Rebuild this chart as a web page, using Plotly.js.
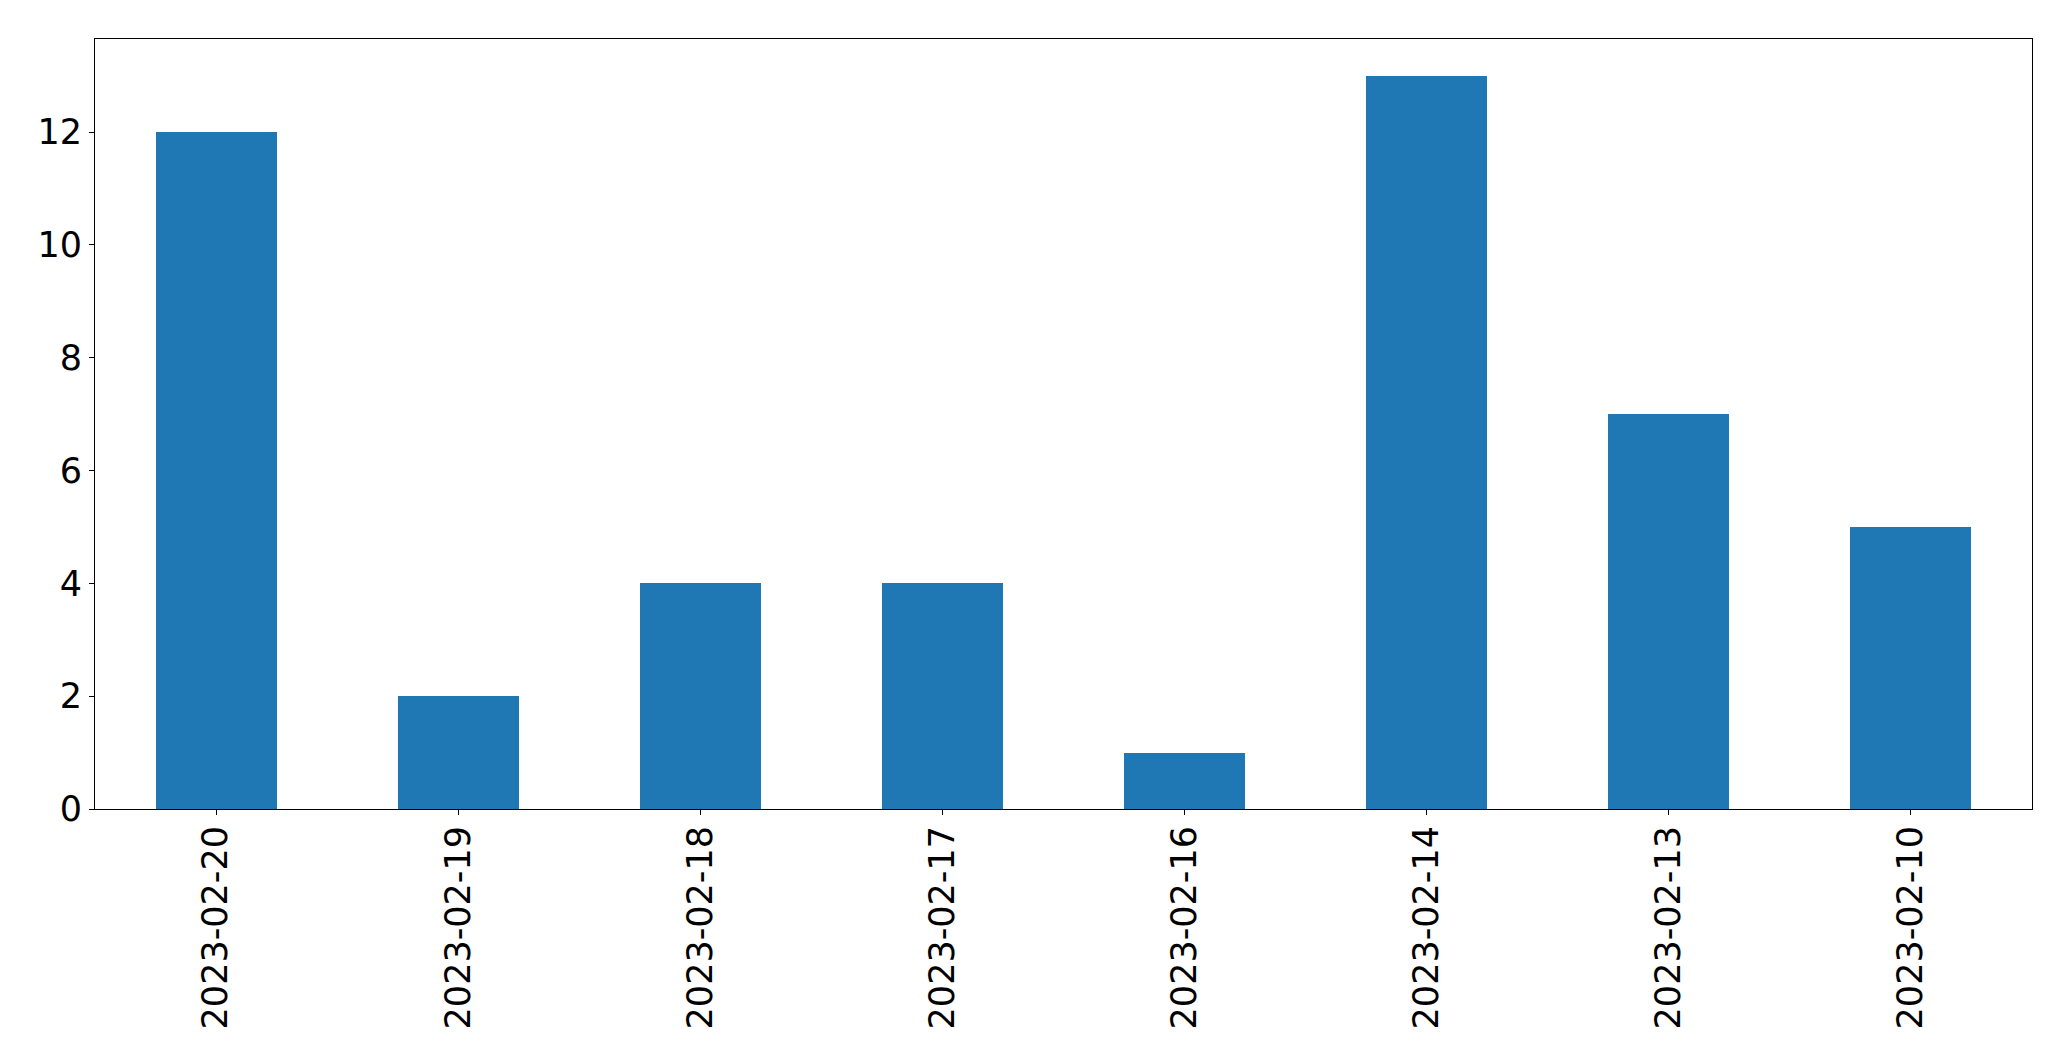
<!DOCTYPE html>
<html>
<head>
<meta charset="utf-8">
<script src="https://cdn.plot.ly/plotly-3.0.1.min.js"></script>
<style>html,body{margin:0;padding:0;background:#fff;}#chart{width:2071px;height:1061px;}</style>
</head>
<body>
<div id="chart"></div>
<script>
const dates = ["2023-02-20","2023-02-19","2023-02-18","2023-02-17","2023-02-16","2023-02-14","2023-02-13","2023-02-10"];
const counts = [12, 2, 4, 4, 1, 13, 7, 5];
const yTicks = [0, 2, 4, 6, 8, 10, 12];

const trace = {
  type: 'bar',
  x: dates,
  y: counts,
  width: 0.5,
  marker: {color: '#1f77b4', line: {width: 0}},
  hoverinfo: 'x+y'
};

const layout = {
  width: 2071,
  height: 1061,
  margin: {l: 95, r: 39, t: 39, b: 252, pad: 0},
  paper_bgcolor: '#fff',
  plot_bgcolor: '#fff',
  showlegend: false,
  bargap: 0,
  font: {family: 'DejaVu Sans', size: 35, color: '#000'},
  xaxis: {
    type: 'category',
    range: [-0.5, dates.length - 0.5],
    tickangle: -90,
    ticks: 'outside',
    ticklen: 5,
    tickwidth: 1,
    tickcolor: '#000',
    ticklabelstandoff: -3,
    showline: true,
    linecolor: '#000',
    linewidth: 1,
    mirror: true,
    showgrid: false,
    zeroline: false,
    tickfont: {family: 'DejaVu Sans', size: 35, color: '#000'}
  },
  yaxis: {
    range: [0, 13.65],
    tickvals: yTicks,
    ticktext: yTicks.map(String),
    ticks: 'outside',
    ticklen: 5,
    tickwidth: 1,
    tickcolor: '#000',
    showline: true,
    linecolor: '#000',
    linewidth: 1,
    mirror: true,
    showgrid: false,
    zeroline: false,
    tickfont: {family: 'DejaVu Sans', size: 35, color: '#000'}
  }
};

Plotly.newPlot('chart', [trace], layout, {displayModeBar: false, staticPlot: true});
</script>
</body>
</html>
